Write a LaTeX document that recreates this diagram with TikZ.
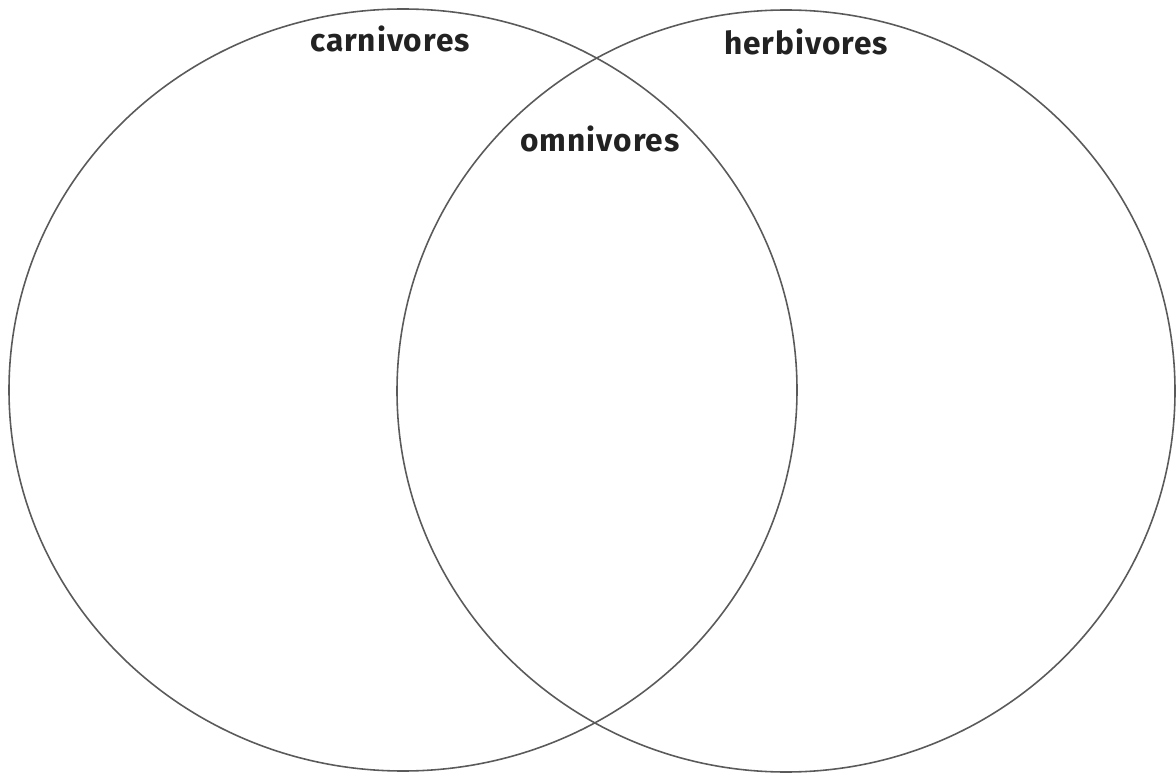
\documentclass[tikz,border=0pt]{standalone}
\usepackage{fontspec}
\setmainfont{Fira Sans}
\newfontfamily\labelfont[LetterSpace=3]{Fira Sans}
\usepackage{xcolor}
\usepackage{tikz}

\definecolor{ringgrey}{HTML}{5A5A5A}
\definecolor{labelgrey}{HTML}{222222}

\tikzset{
	venn/.style={draw=ringgrey, line width=0.9pt},
	setlabel/.style={anchor=base, text=labelgrey, inner sep=0pt,
		font=\labelfont\bfseries\fontsize{18}{21}\selectfont}
}

\begin{document}
\begin{tikzpicture}[x=0.02cm, y=-0.02cm]
				\useasboundingbox (0,0) rectangle (1176,773);
				
				\coordinate (L) at (403,390);
				\coordinate (R) at (786,391);
				
				\draw [venn] (L) ellipse [x radius=394, y radius=381];%left%
				\draw [venn] (R) ellipse [x radius=389, y radius=381];%right%
				
				\begin{scope}[every node/.style={setlabel}]
					\node (carn) at (390,52) {carnivores};
					\node (herb) at (806,55) {herbivores};
					\node (omni) at (600,152) {omnivores};
				\end{scope}
			\end{tikzpicture}
\end{document}
